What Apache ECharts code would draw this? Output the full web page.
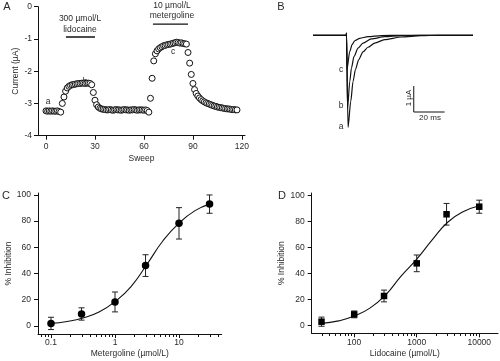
<!DOCTYPE html>
<html>
<head>
<meta charset="utf-8">
<script src="https://cdn.jsdelivr.net/npm/echarts@6/dist/echarts.min.js"></script>
<style>html,body{margin:0;padding:0;background:#fff}#c{width:500px;height:361px}</style>
</head>
<body>
<div id="c"></div>
<script>
// ---------- Panel A: current vs sweep ----------
const sweepCurrent = [
 -3.23,-3.24,-3.23,-3.24,-3.23,-3.24,-3.24,-3.23,-3.25,-3.27,
 -3.0,-2.8,-2.62,-2.52,-2.47,-2.44,-2.42,-2.41,-2.4,-2.39,
 -2.38,-2.38,-2.37,-2.37,-2.38,-2.37,-2.37,-2.38,-2.42,-2.66,
 -2.9,-3.04,-3.11,-3.15,-3.17,-3.18,-3.19,-3.2,-3.2,-3.19,
 -3.2,-3.21,-3.2,-3.19,-3.2,-3.2,-3.21,-3.2,-3.19,-3.2,
 -3.2,-3.21,-3.2,-3.2,-3.19,-3.2,-3.21,-3.2,-3.2,-3.2,
 -3.21,-3.2,-3.22,-3.27,-2.84,-2.22,-1.68,-1.46,-1.37,-1.31,
 -1.27,-1.24,-1.21,-1.2,-1.18,-1.17,-1.16,-1.15,-1.13,-1.12,
 -1.1,-1.11,-1.13,-1.12,-1.14,-1.15,-1.16,-1.42,-1.75,-2.1,
 -2.38,-2.57,-2.69,-2.77,-2.83,-2.88,-2.92,-2.95,-2.98,-3.0,
 -3.02,-3.04,-3.06,-3.08,-3.09,-3.11,-3.12,-3.13,-3.14,-3.15,
 -3.16,-3.17,-3.17,-3.18,-3.19,-3.19,-3.2,-3.2
];
const aTicksX = [0, 30, 60, 90, 120];
const lidoPeriod = [12.2, 30];
const metPeriod = [65.5, 87];

// ---------- Panel B: current traces (time ms, current µA) ----------
const traceA = [[-21.7,0],[-0.1,0],[0,0.08],[1.0,-3.54],[2.77,-2.54],[4.26,-1.77],[5.8,-1.32],[7.9,-0.94],[10.7,-0.64],[13.9,-0.46],[18.3,-0.30],[24.7,-0.17],[35.5,-0.065],[48.4,-0.015],[60,0],[82,0]];
const traceB = [[-21.7,0],[-0.1,0],[0,0.08],[0.7,-2.80],[2.13,-1.77],[3.23,-1.26],[4.9,-0.81],[7.5,-0.49],[10.7,-0.30],[16.1,-0.14],[24.7,-0.054],[35.5,-0.015],[48,0],[82,0]];
const traceC = [[-21.7,0],[-0.1,0],[0,0.08],[0.3,-1.32],[2.13,-0.62],[3.6,-0.36],[5.35,-0.21],[8.6,-0.115],[13.9,-0.054],[22.6,-0.01],[35,0],[82,0]];
const scaleBarMs = 20, scaleBarUA = 1;

// ---------- Panel C: metergoline concentration-response ----------
const metConc = [0.1, 0.3, 1, 3, 10, 30];
const metInh = [1.8, 9, 18.2, 46, 78.3, 93];
const metErr = [4.7, 4.7, 7.6, 8.3, 12, 7];
const metFitX = [0.1, 0.178, 0.316, 0.562, 1, 1.78, 3.16, 5.62, 10, 17.8, 30];
const metFitY = [1.8, 3.3, 6, 10.5, 18.4, 30, 47, 65, 78.5, 88, 93];
const cTickVals = [0.1, 1, 10];
const cTickLabels = ['0.1', '1', '10'];
const cMinor = [0.07,0.08,0.09,0.2,0.3,0.4,0.5,0.6,0.7,0.8,0.9,2,3,4,5,6,7,8,9,20,30,40];

// ---------- Panel D: lidocaine concentration-response ----------
const lidoConc = [30, 100, 300, 1000, 3000, 10000];
const lidoInh = [3.1, 8.7, 22.8, 47.8, 85.4, 91.2];
const lidoErr = [3.5, 2.6, 4.5, 6.4, 8.3, 5];
const lidoFitX = [30, 56.2, 100, 178, 316, 562, 1000, 1780, 3160, 5620, 10000];
const lidoFitY = [1.8, 3.7, 7.4, 13.5, 23.5, 38, 51, 66, 79.5, 87.5, 92];
const dTickVals = [100, 1000, 10000];
const dTickLabels = ['100', '1000', '10000'];
const dMinor = [30,40,50,60,70,80,90,200,300,400,500,600,700,800,900,2000,3000,4000,5000,6000,7000,8000,9000];
const inhTicks = [0, 20, 40, 60, 80, 100];

// ---------- build ----------
const FONT = '"Liberation Sans", Arial, sans-serif';
const TXT = '#2a2a2a';
const L10 = Math.log10;
const chart = echarts.init(document.getElementById('c'), null, {renderer: 'canvas'});

const lineStyle = {color: '#111', width: 1};
const baseLabel = {color: TXT, fontSize: 8.5, fontFamily: FONT};
const C_YMIN = -6.3, D_YMIN = -5.8;

function errRender(params, api) {
  const x = api.value(0), y = api.value(1), e = api.value(2);
  const t = api.coord([x, y + e]), b = api.coord([x, y - e]);
  const w = 3;
  const st = {stroke: '#222', lineWidth: 1};
  return {type: 'group', children: [
    {type: 'line', shape: {x1: t[0], y1: t[1], x2: b[0], y2: b[1]}, style: st},
    {type: 'line', shape: {x1: t[0]-w, y1: t[1], x2: t[0]+w, y2: t[1]}, style: st},
    {type: 'line', shape: {x1: b[0]-w, y1: b[1], x2: b[0]+w, y2: b[1]}, style: st}
  ]};
}

function logX(gridIndex, min, max, vals, labels, nameTxt) {
  const lv = vals.map(L10);
  return {
    type: 'value', gridIndex, min, max, position: 'bottom',
    axisLine: {show: true, onZero: false, lineStyle},
    axisTick: {show: true, length: 4, lineStyle, customValues: lv},
    axisLabel: Object.assign({}, baseLabel, {margin: 4.5, customValues: lv,
      formatter: v => { const i = lv.findIndex(q => Math.abs(q - v) < 1e-6); return i >= 0 ? labels[i] : ''; }}),
    splitLine: {show: false},
    name: nameTxt, nameLocation: 'middle', nameGap: 15.5,
    nameTextStyle: {color: TXT, fontSize: 8.5, fontFamily: FONT}
  };
}
function inhY(gridIndex, min, max, gap) {
  return {
    type: 'value', gridIndex, min, max,
    axisLine: {show: true, onZero: false, lineStyle},
    axisTick: {show: true, length: 4, lineStyle, customValues: inhTicks},
    axisLabel: Object.assign({}, baseLabel, {margin: 7, customValues: inhTicks}),
    splitLine: {show: false},
    name: '% Inhibition', nameLocation: 'middle', nameGap: gap,
    nameTextStyle: {color: TXT, fontSize: 8.5, fontFamily: FONT}
  };
}

function textItems() {
  const t = (text, x, y, size) => ({type: 'text', silent: true,
    style: {text, x, y, textAlign: 'center', textVerticalAlign: 'middle',
            font: (size || 8.5) + 'px ' + FONT, fill: TXT}});
  return [
    t('A', 7, 7, 11), t('B', 281, 7, 11), t('C', 6, 196, 11), t('D', 282, 196, 11),
    t('300 µmol/L', 80, 19), t('lidocaine', 80, 30),
    t('10 µmol/L', 172, 6), t('metergoline', 172, 16),
    t('a', 48, 102), t('b', 85, 82), t('c', 173, 52),
    t('a', 341, 127), t('b', 341, 106), t('c', 341, 70),
    t('20 ms', 430, 118, 8),
    {type: 'text', silent: true, x: 409, y: 98, rotation: Math.PI / 2,
     style: {text: '1 µA', x: 0, y: 0, textAlign: 'center', textVerticalAlign: 'middle',
             font: '8px ' + FONT, fill: TXT}}
  ];
}

const option = {
  animation: false,
  backgroundColor: '#fff',
  grid: [
    {left: 38, top: 6.7, width: 207, height: 129},
    {left: 313, top: 30.1, width: 160, height: 104},
    {left: 38, top: 193, width: 183.7, height: 141},
    {left: 311.7, top: 193, width: 186.3, height: 140.3}
  ],
  xAxis: [
    {type: 'value', gridIndex: 0, min: -4.9, max: 121.9,
     axisLine: {show: true, onZero: false, lineStyle},
     axisTick: {show: true, length: 4, lineStyle, customValues: aTicksX},
     axisLabel: Object.assign({}, baseLabel, {margin: 6, customValues: aTicksX}),
     splitLine: {show: false},
     name: 'Sweep', nameLocation: 'middle', nameGap: 18,
     nameTextStyle: {color: TXT, fontSize: 8.5, fontFamily: FONT}},
    {type: 'value', gridIndex: 1, min: -21.7, max: 82, show: false},
    logX(2, -1.203, 1.667, cTickVals, cTickLabels, 'Metergoline (µmol/L)'),
    logX(3, 1.32, 4.30, dTickVals, dTickLabels, 'Lidocaine (µmol/L)')
  ],
  yAxis: [
    {type: 'value', gridIndex: 0, min: -4, max: 0, interval: 1,
     axisLine: {show: true, onZero: false, lineStyle},
     axisTick: {show: true, length: 4, lineStyle},
     axisLabel: Object.assign({}, baseLabel, {margin: 6}),
     splitLine: {show: false},
     name: 'Current (µA)', nameLocation: 'middle', nameGap: 18,
     nameTextStyle: {color: TXT, fontSize: 8.5, fontFamily: FONT}},
    {type: 'value', gridIndex: 1, min: -3.8, max: 0.2, show: false},
    inhY(2, C_YMIN, 101.5, 25),
    inhY(3, D_YMIN, 101.7, 24)
  ],
  series: [
    // Panel A
    {type: 'scatter', xAxisIndex: 0, yAxisIndex: 0, symbol: 'circle', symbolSize: 6,
     itemStyle: {color: '#fff', borderColor: '#111', borderWidth: 1, opacity: 1},
     data: sweepCurrent.map((v, i) => [i, v]), z: 3},
    {type: 'line', xAxisIndex: 0, yAxisIndex: 0, symbol: 'none', lineStyle: {color: '#111', width: 1.4},
     data: [[lidoPeriod[0], -0.94], [lidoPeriod[1], -0.94]]},
    {type: 'line', xAxisIndex: 0, yAxisIndex: 0, symbol: 'none', lineStyle: {color: '#111', width: 1.4},
     data: [[metPeriod[0], -0.54], [metPeriod[1], -0.54]]},
    // Panel B
    {type: 'line', xAxisIndex: 1, yAxisIndex: 1, symbol: 'none', smooth: 0.25, smoothMonotone: 'x',
     lineStyle: {color: '#111', width: 1.2}, data: traceA},
    {type: 'line', xAxisIndex: 1, yAxisIndex: 1, symbol: 'none', smooth: 0.25, smoothMonotone: 'x',
     lineStyle: {color: '#111', width: 1.2}, data: traceB},
    {type: 'line', xAxisIndex: 1, yAxisIndex: 1, symbol: 'none', smooth: 0.25, smoothMonotone: 'x',
     lineStyle: {color: '#111', width: 1.2}, data: traceC},
    {type: 'line', xAxisIndex: 1, yAxisIndex: 1, symbol: 'none', lineStyle: {color: '#111', width: 1},
     data: [[43.6, -2.95 + scaleBarUA], [43.6, -2.95], [43.6 + scaleBarMs, -2.95]]},
    // Panel C
    {type: 'custom', xAxisIndex: 2, yAxisIndex: 2, renderItem: errRender, encode: {x: 0, y: 1},
     data: metConc.map((c, i) => [L10(c), metInh[i], metErr[i]]), z: 2},
    {type: 'line', xAxisIndex: 2, yAxisIndex: 2, symbol: 'none', smooth: 0.5,
     lineStyle: {color: '#111', width: 1.1}, data: metFitX.map((c, i) => [L10(c), metFitY[i]]), z: 3},
    {type: 'scatter', xAxisIndex: 2, yAxisIndex: 2, symbol: 'circle', symbolSize: 7.5,
     itemStyle: {color: '#000', opacity: 1}, data: metConc.map((c, i) => [L10(c), metInh[i]]), z: 4},
    // Panel D
    {type: 'custom', xAxisIndex: 3, yAxisIndex: 3, renderItem: errRender, encode: {x: 0, y: 1},
     data: lidoConc.map((c, i) => [L10(c), lidoInh[i], lidoErr[i]]), z: 2},
    {type: 'line', xAxisIndex: 3, yAxisIndex: 3, symbol: 'none', smooth: 0.5,
     lineStyle: {color: '#111', width: 1.1}, data: lidoFitX.map((c, i) => [L10(c), lidoFitY[i]]), z: 3},
    {type: 'scatter', xAxisIndex: 3, yAxisIndex: 3, symbol: 'rect', symbolSize: 6.5,
     itemStyle: {color: '#000', opacity: 1}, data: lidoConc.map((c, i) => [L10(c), lidoInh[i]]), z: 4}
  ],
  graphic: textItems()
};
chart.setOption(option);

// minor log ticks: positioned through the chart's own axis scales (convertToPixel)
function minorTicks(gridIndex, vals, ymin) {
  return vals.map(v => {
    const p = chart.convertToPixel({gridIndex}, [L10(v), ymin]);
    const x = Math.round(p[0]) + 0.5, y = Math.round(p[1]);
    return {type: 'line', silent: true, z: 50,
      shape: {x1: x, y1: y, x2: x, y2: y + 3}, style: {stroke: '#111', lineWidth: 1}};
  });
}
chart.setOption({graphic: textItems().concat(minorTicks(2, cMinor, C_YMIN), minorTicks(3, dMinor, D_YMIN))});
</script>
</body>
</html>
